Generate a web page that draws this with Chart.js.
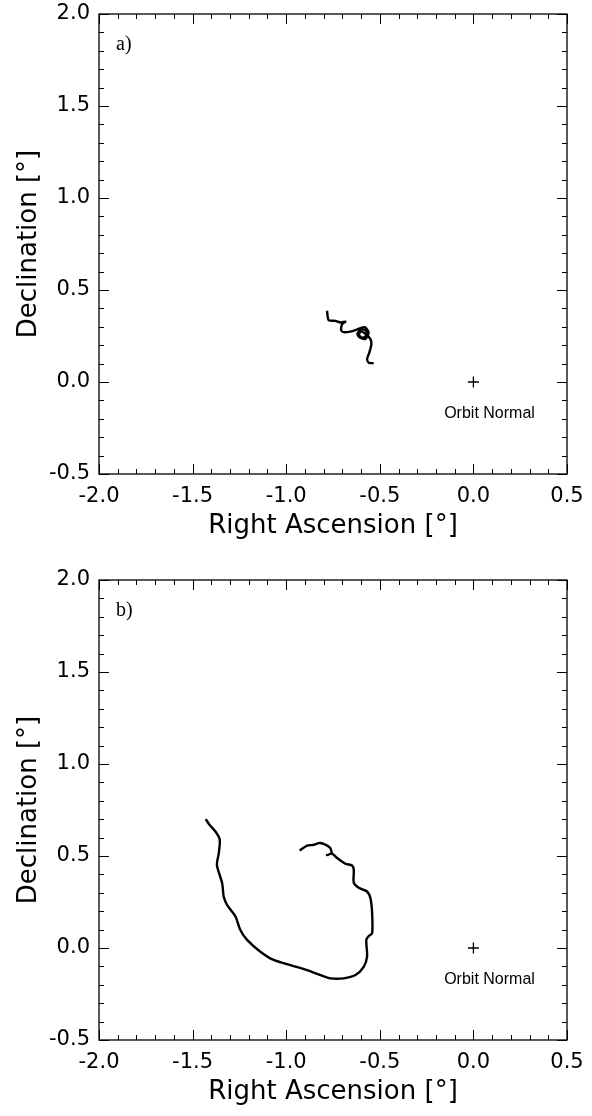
<!DOCTYPE html>
<html lang="en">

<head>
    <meta charset="UTF-8">
    <title>Orbit Normal Drift</title>
    <script src="https://cdn.jsdelivr.net/npm/chart.js"></script>
    <style>
        body {
            margin: 0;
            background: #fff;
        }

        .panel {
            position: relative;
            width: 592px;
            height: 558px;
        }
    </style>
</head>

<body>
    <div class="panel"><canvas id="chartA" width="592" height="558"></canvas></div>
    <div class="panel"><canvas id="chartB" width="592" height="558"></canvas></div>

    <script>
        // axis ranges and tick steps (degrees)
        const raRange = [-2.0, 0.5];
        const decRange = [-0.5, 2.0];
        const majorStep = 0.5;
        const minorStep = 0.1;

        // panel a) pointing track
        const raA = [-0.782, -0.773, -0.737, -0.710, -0.684, -0.701, -0.707, -0.693, -0.657, -0.630,
            -0.610, -0.580, -0.560, -0.575, -0.605, -0.620, -0.600, -0.575, -0.570, -0.590, -0.612, -0.600, -0.578,
            -0.550, -0.545, -0.556, -0.568, -0.559, -0.533];
        const decA = [0.387, 0.336, 0.332, 0.323, 0.328, 0.314, 0.282, 0.271, 0.274, 0.282,
            0.290, 0.298, 0.270, 0.235, 0.240, 0.262, 0.285, 0.280, 0.255, 0.240, 0.255, 0.275, 0.262,
            0.233, 0.205, 0.160, 0.124, 0.105, 0.102];

        // panel b) pointing track
        const raB = [-1.430, -1.410, -1.378, -1.355, -1.360, -1.370, -1.342, -1.334, -1.316, -1.271, -1.245,
            -1.209, -1.138, -1.067, -0.978, -0.888, -0.817, -0.764, -0.693, -0.630, -0.586, -0.568,
            -0.572, -0.559, -0.541, -0.541, -0.550, -0.568, -0.613, -0.639, -0.639, -0.648, -0.684,
            -0.728, -0.755, -0.782, -0.758, -0.766, -0.800, -0.826, -0.853, -0.888, -0.928];
        const decB = [0.700, 0.670, 0.633, 0.590, 0.516, 0.450, 0.352, 0.280, 0.234, 0.171, 0.098,
            0.044, -0.020, -0.065, -0.093, -0.120, -0.147, -0.165, -0.165, -0.147, -0.102, -0.047,
            0.044, 0.065, 0.080, 0.189, 0.270, 0.307, 0.328, 0.355, 0.425, 0.448, 0.458,
            0.489, 0.513, 0.505, 0.517, 0.545, 0.566, 0.570, 0.561, 0.556, 0.530];

        // orbit normal marker
        const normalRA = [0.0];
        const normalDec = [0.0];
        const normalLabel = "Orbit Normal";

        const axisFont = "'DejaVu Sans', 'Liberation Sans', Arial, sans-serif";
        const toPoints = (xs, ys) => xs.map((x, i) => ({ x: x, y: ys[i] }));

        // frame, inward ticks on all four sides, panel letter and marker label
        const framePlugin = {
            id: "frame",
            afterDraw(chart, args, opts) {
                const ctx = chart.ctx;
                const area = chart.chartArea;
                const xs = chart.scales.x;
                const ys = chart.scales.y;
                ctx.save();
                ctx.strokeStyle = "#000";
                ctx.lineWidth = 1.3;
                ctx.strokeRect(area.left, area.top, area.right - area.left, area.bottom - area.top);

                ctx.lineWidth = 1;
                ctx.beginPath();
                const nx = Math.round((raRange[1] - raRange[0]) / minorStep);
                for (let i = 0; i <= nx; i++) {
                    const v = raRange[0] + i * minorStep;
                    const len = i % 5 === 0 ? 10 : 5;
                    const px = Math.round(xs.getPixelForValue(v)) + 0.5;
                    ctx.moveTo(px, area.bottom);
                    ctx.lineTo(px, area.bottom - len);
                    ctx.moveTo(px, area.top);
                    ctx.lineTo(px, area.top + len);
                }
                const ny = Math.round((decRange[1] - decRange[0]) / minorStep);
                for (let i = 0; i <= ny; i++) {
                    const v = decRange[0] + i * minorStep;
                    const len = i % 5 === 0 ? 10 : 5;
                    const py = Math.round(ys.getPixelForValue(v)) + 0.5;
                    ctx.moveTo(area.left, py);
                    ctx.lineTo(area.left + len, py);
                    ctx.moveTo(area.right, py);
                    ctx.lineTo(area.right - len, py);
                }
                ctx.stroke();

                ctx.fillStyle = "#000";
                ctx.font = "20px 'Liberation Serif', 'Times New Roman', serif";
                ctx.textAlign = "left";
                ctx.textBaseline = "alphabetic";
                ctx.fillText(opts.letter, area.left + 17, area.top + 36);

                ctx.font = "16px 'Liberation Sans', Arial, sans-serif";
                ctx.textAlign = "center";
                ctx.textBaseline = "middle";
                ctx.fillText(normalLabel, xs.getPixelForValue(0.086), ys.getPixelForValue(-0.17));
                ctx.restore();
            }
        };

        // keep tick-label overhang from pushing the plot frame around
        function noOverhang(scale) {
            scale.paddingTop = 0;
            scale.paddingBottom = 0;
            scale.paddingLeft = 0;
            scale.paddingRight = 0;
        }

        function makeChart(id, ra, dec, letter, padTop, xAxisHeight, xTitlePad) {
            const ctx = document.getElementById(id).getContext("2d");
            return new Chart(ctx, {
                type: "scatter",
                data: {
                    datasets: [{
                        data: toPoints(ra, dec),
                        showLine: true,
                        borderColor: "#000",
                        borderWidth: 2.4,
                        pointRadius: 0,
                        tension: 0.25
                    }, {
                        data: toPoints(normalRA, normalDec),
                        pointStyle: "cross",
                        pointRadius: 5.5,
                        borderColor: "#000",
                        borderWidth: 1.3,
                        showLine: false
                    }]
                },
                options: {
                    responsive: false,
                    animation: false,
                    devicePixelRatio: 1,
                    layout: { padding: { left: 0, right: 25, top: padTop, bottom: 0 } },
                    plugins: {
                        legend: { display: false },
                        tooltip: { enabled: false },
                        frame: { letter: letter }
                    },
                    scales: {
                        x: {
                            type: "linear",
                            min: raRange[0],
                            max: raRange[1],
                            grid: { display: false, drawTicks: false },
                            border: { display: false },
                            ticks: {
                                stepSize: majorStep,
                                padding: 10,
                                color: "#000",
                                maxRotation: 0,
                                font: { family: axisFont, size: 21 },
                                callback: v => v.toFixed(1)
                            },
                            title: {
                                display: true,
                                text: "Right Ascension [°]",
                                color: "#000",
                                font: { family: axisFont, size: 26 },
                                padding: { top: 0, bottom: xTitlePad }
                            },
                            afterFit: scale => { scale.height = xAxisHeight; noOverhang(scale); }
                        },
                        y: {
                            type: "linear",
                            min: decRange[0],
                            max: decRange[1],
                            grid: { display: false, drawTicks: false },
                            border: { display: false },
                            ticks: {
                                stepSize: majorStep,
                                padding: 9,
                                color: "#000",
                                font: { family: axisFont, size: 21 },
                                callback: v => v.toFixed(1)
                            },
                            title: {
                                display: true,
                                text: "Declination [°]",
                                color: "#000",
                                font: { family: axisFont, size: 26 },
                                padding: { top: 14, bottom: 0 }
                            },
                            afterFit: scale => { scale.width = 99; noOverhang(scale); }
                        }
                    }
                },
                plugins: [framePlugin]
            });
        }

        makeChart("chartA", raA, decA, "a)", 14, 84, 16);
        makeChart("chartB", raB, decB, "b)", 22, 76, 8);
    </script>
</body>

</html>
